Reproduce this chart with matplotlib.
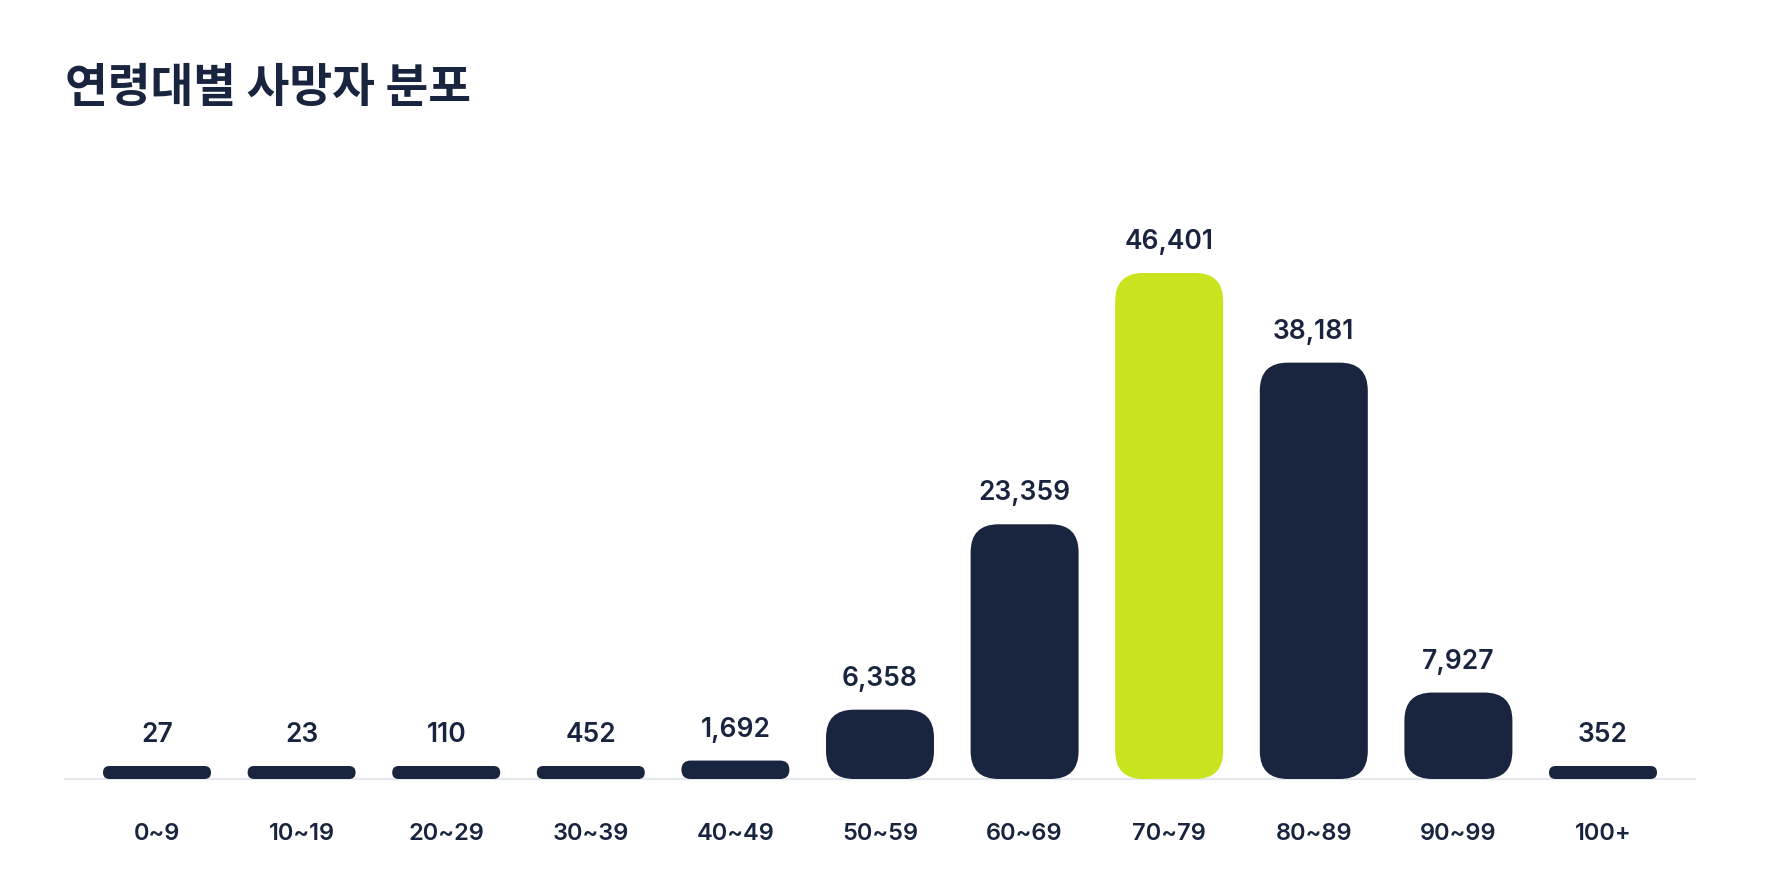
import matplotlib
matplotlib.use("Agg")
import matplotlib.pyplot as plt
from matplotlib.patches import FancyBboxPatch

categories = ["0~9", "10~19", "20~29", "30~39", "40~49", "50~59",
              "60~69", "70~79", "80~89", "90~99", "100+"]
deaths = [27, 23, 110, 452, 1692, 6358, 23359, 46401, 38181, 7927, 352]
title = "연령대별 사망자 분포"

NAVY = "#19243f"
GREEN = "#c9e41f"
GRID = "#e4e7ec"

W, H = 1766, 888
fig = plt.figure(figsize=(W / 100, H / 100), dpi=100)
fig.patch.set_facecolor("white")

# axes in pixel geometry
ax_left, ax_right = 65, 1695
ax_bottom_px = 779          # from top
ax_top_px = 150
ax = fig.add_axes([ax_left / W, (H - ax_bottom_px) / H,
                   (ax_right - ax_left) / W, (ax_bottom_px - ax_top_px) / H])

step_px = 144.6
first_center = 157
xl = (ax_left - first_center) / step_px
xr = (ax_right - first_center) / step_px
ax.set_xlim(xl, xr)
max_px = 506.0
ymax = max(deaths) * (ax_bottom_px - ax_top_px) / max_px
ax.set_ylim(0, ymax)

px_per_x = step_px
px_per_y = max_px / max(deaths)

bar_w = 108 / step_px
min_h = 13 / px_per_y
radius_px = 28
peak = deaths.index(max(deaths))

for i, v in enumerate(deaths):
    h = max(v, min_h)
    h_px = h * px_per_y
    r_px = min(radius_px, h_px / 2, 108 / 2)
    color = GREEN if i == peak else NAVY
    patch = FancyBboxPatch((i - bar_w / 2, 0), bar_w, h,
                           boxstyle=f"round,pad=0,rounding_size={r_px / px_per_x}",
                           mutation_aspect=px_per_x / px_per_y,
                           facecolor=color, edgecolor="none", zorder=3)
    ax.add_patch(patch)
    ax.annotate(f"{v:,}", (i, h), xytext=(0, 24), textcoords="offset pixels",
                ha="center", va="baseline", fontsize=19, fontweight=600,
                family=["Inter", "DejaVu Sans"], color=NAVY, zorder=4)
    ax.annotate(categories[i], (i, 0), xytext=(0, -61), textcoords="offset pixels",
                ha="center", va="baseline", fontsize=17, fontweight=600,
                family=["Inter", "DejaVu Sans"], color=NAVY,
                annotation_clip=False)

for s in ["top", "left", "right"]:
    ax.spines[s].set_visible(False)
ax.spines["bottom"].set_color(GRID)
ax.spines["bottom"].set_linewidth(1.6)
ax.spines["bottom"].set_zorder(1)
ax.set_xticks([])
ax.set_yticks([])
ax.patch.set_alpha(0)

fig.text(65 / W, 1 - 88 / H, title, ha="left", va="center", fontsize=33.5,
         fontweight="bold", family=["Noto Sans CJK KR", "DejaVu Sans"], color=NAVY)

fig.savefig("out.png", dpi=100, facecolor="white")
